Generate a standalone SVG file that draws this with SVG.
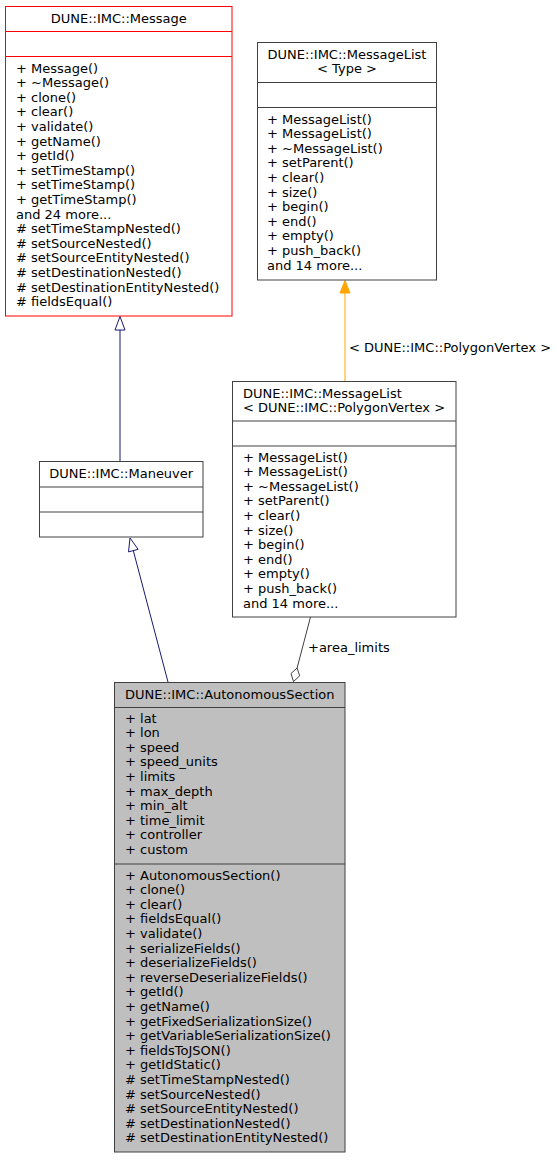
<svg xmlns="http://www.w3.org/2000/svg" width="557" height="1160" viewBox="0 0 557 1160">
<style>
text{font-family:"DejaVu Sans",sans-serif;font-size:13px;fill:#000}
.c{text-anchor:middle}
.box{fill:#fff;stroke:#404040;stroke-width:1}
.sep{stroke:#404040;stroke-width:1}
.red{fill:#fff;stroke:#ff0000;stroke-width:1}
.rsep{stroke:#ff0000;stroke-width:1}
.gray{fill:#bfbfbf;stroke:#404040;stroke-width:1}
.blue{stroke:#191970;fill:none;stroke-width:1}
</style>
<rect width="557" height="1160" fill="#fff"/>
<g id="edges">
  <line class="blue" x1="120" y1="330" x2="120" y2="461"/>
  <polygon points="120,316.5 115,330 125,330" fill="#fff" stroke="#191970"/>
  <line class="blue" x1="168" y1="682" x2="133.3" y2="550.6"/>
  <polygon points="130,538 138.1,549.3 128.5,551.9" fill="#fff" stroke="#191970"/>
  <line x1="345" y1="381" x2="345" y2="293" stroke="#ffa500" stroke-width="1"/>
  <polygon points="345,280.5 340,293 350,293" fill="#ffa500" stroke="#ffa500"/>
  <text x="349" y="352">&lt; DUNE::IMC::PolygonVertex &gt;</text>
  <line x1="310.5" y1="617" x2="297.1" y2="668" stroke="#404040" stroke-width="1"/>
  <polygon points="293.5,681.5 299.7,675.9 297.1,668 291,673.5" fill="#fff" stroke="#404040"/>
  <text x="308" y="652">+area_limits</text>
</g>
<g id="node-message">
  <rect class="red" x="5.5" y="6.5" width="226.5" height="309.5"/>
  <line class="rsep" x1="5.5" y1="31.5" x2="232" y2="31.5"/>
  <line class="rsep" x1="5.5" y1="56.5" x2="232" y2="56.5"/>
  <text class="c" x="118.75" y="23">DUNE::IMC::Message</text>
  <text x="16" y="72.5">+ Message()</text>
  <text x="16" y="87.1">+ ~Message()</text>
  <text x="16" y="101.7">+ clone()</text>
  <text x="16" y="116.3">+ clear()</text>
  <text x="16" y="130.9">+ validate()</text>
  <text x="16" y="145.5">+ getName()</text>
  <text x="16" y="160.1">+ getId()</text>
  <text x="16" y="174.7">+ setTimeStamp()</text>
  <text x="16" y="189.3">+ setTimeStamp()</text>
  <text x="16" y="203.9">+ getTimeStamp()</text>
  <text x="16" y="218.5">and 24 more...</text>
  <text x="16" y="233.1"># setTimeStampNested()</text>
  <text x="16" y="247.7"># setSourceNested()</text>
  <text x="16" y="262.3"># setSourceEntityNested()</text>
  <text x="16" y="276.9"># setDestinationNested()</text>
  <text x="16" y="291.5"># setDestinationEntityNested()</text>
  <text x="16" y="306.1"># fieldsEqual()</text>
</g>
<g id="node-messagelist-type">
  <rect class="box" x="257.5" y="42.5" width="179" height="237.5"/>
  <line class="sep" x1="257.5" y1="82.5" x2="436.5" y2="82.5"/>
  <line class="sep" x1="257.5" y1="107.5" x2="436.5" y2="107.5"/>
  <text class="c" x="347" y="58.5">DUNE::IMC::MessageList</text>
  <text class="c" x="347" y="73">&lt; Type &gt;</text>
  <text x="267" y="123.5">+ MessageList()</text>
  <text x="267" y="138.1">+ MessageList()</text>
  <text x="267" y="152.7">+ ~MessageList()</text>
  <text x="267" y="167.3">+ setParent()</text>
  <text x="267" y="181.9">+ clear()</text>
  <text x="267" y="196.5">+ size()</text>
  <text x="267" y="211.1">+ begin()</text>
  <text x="267" y="225.7">+ end()</text>
  <text x="267" y="240.3">+ empty()</text>
  <text x="267" y="254.9">+ push_back()</text>
  <text x="267" y="269.5">and 14 more...</text>
</g>
<g id="node-messagelist-pv">
  <rect class="box" x="232.5" y="381.5" width="223.5" height="235.5"/>
  <line class="sep" x1="232.5" y1="421" x2="456" y2="421"/>
  <line class="sep" x1="232.5" y1="446" x2="456" y2="446"/>
  <text x="243" y="397.5">DUNE::IMC::MessageList</text>
  <text x="243" y="412">&lt; DUNE::IMC::PolygonVertex &gt;</text>
  <text x="243" y="461.5">+ MessageList()</text>
  <text x="243" y="476.1">+ MessageList()</text>
  <text x="243" y="490.7">+ ~MessageList()</text>
  <text x="243" y="505.3">+ setParent()</text>
  <text x="243" y="519.9">+ clear()</text>
  <text x="243" y="534.5">+ size()</text>
  <text x="243" y="549.1">+ begin()</text>
  <text x="243" y="563.7">+ end()</text>
  <text x="243" y="578.3">+ empty()</text>
  <text x="243" y="592.9">+ push_back()</text>
  <text x="243" y="607.5">and 14 more...</text>
</g>
<g id="node-maneuver">
  <rect class="box" x="39.5" y="461.5" width="163.5" height="75.5"/>
  <line class="sep" x1="39.5" y1="487" x2="203" y2="487"/>
  <line class="sep" x1="39.5" y1="512" x2="203" y2="512"/>
  <text class="c" x="121.25" y="478">DUNE::IMC::Maneuver</text>
</g>
<g id="node-autonomoussection">
  <rect class="gray" x="114.5" y="682.5" width="230.5" height="469.5"/>
  <line class="sep" x1="114.5" y1="707.5" x2="345" y2="707.5"/>
  <line class="sep" x1="114.5" y1="864" x2="345" y2="864"/>
  <text class="c" x="229.75" y="698.5">DUNE::IMC::AutonomousSection</text>
  <text x="125" y="722.5">+ lat</text>
  <text x="125" y="737.1">+ lon</text>
  <text x="125" y="751.7">+ speed</text>
  <text x="125" y="766.3">+ speed_units</text>
  <text x="125" y="780.9">+ limits</text>
  <text x="125" y="795.5">+ max_depth</text>
  <text x="125" y="810.1">+ min_alt</text>
  <text x="125" y="824.7">+ time_limit</text>
  <text x="125" y="839.3">+ controller</text>
  <text x="125" y="853.9">+ custom</text>
  <text x="125" y="879.5">+ AutonomousSection()</text>
  <text x="125" y="894.1">+ clone()</text>
  <text x="125" y="908.7">+ clear()</text>
  <text x="125" y="923.3">+ fieldsEqual()</text>
  <text x="125" y="937.9">+ validate()</text>
  <text x="125" y="952.5">+ serializeFields()</text>
  <text x="125" y="967.1">+ deserializeFields()</text>
  <text x="125" y="981.7">+ reverseDeserializeFields()</text>
  <text x="125" y="996.3">+ getId()</text>
  <text x="125" y="1010.9">+ getName()</text>
  <text x="125" y="1025.5">+ getFixedSerializationSize()</text>
  <text x="125" y="1040.1">+ getVariableSerializationSize()</text>
  <text x="125" y="1054.7">+ fieldsToJSON()</text>
  <text x="125" y="1069.3">+ getIdStatic()</text>
  <text x="125" y="1083.9"># setTimeStampNested()</text>
  <text x="125" y="1098.5"># setSourceNested()</text>
  <text x="125" y="1113.1"># setSourceEntityNested()</text>
  <text x="125" y="1127.7"># setDestinationNested()</text>
  <text x="125" y="1142.3"># setDestinationEntityNested()</text>
</g>
</svg>
